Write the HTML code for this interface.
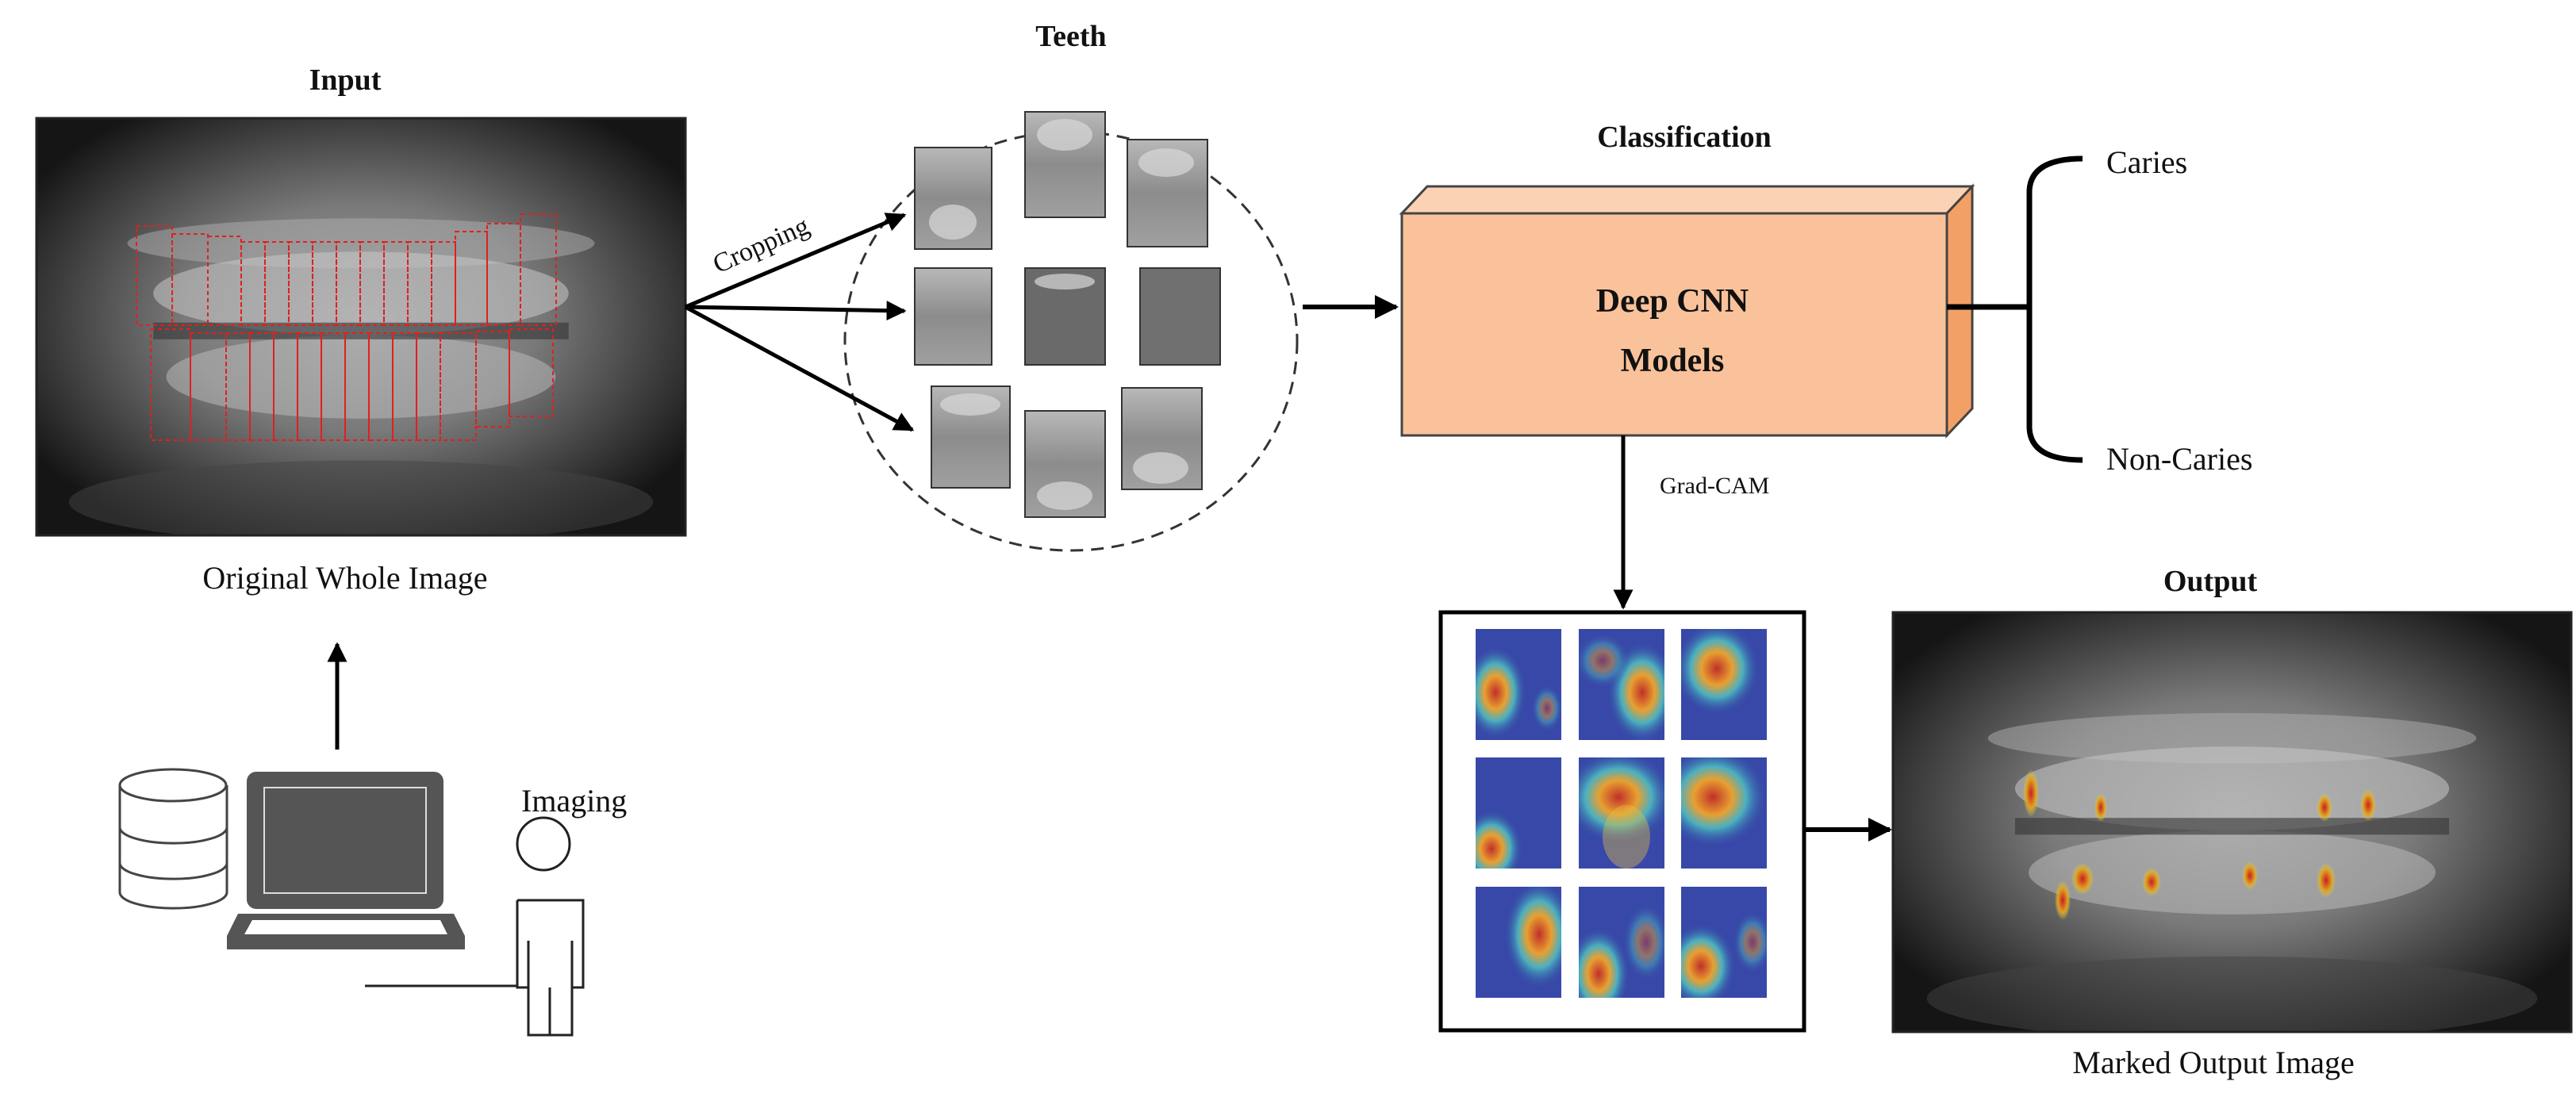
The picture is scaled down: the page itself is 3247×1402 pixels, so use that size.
<!DOCTYPE html>
<html><head><meta charset="utf-8"><style>
html,body{margin:0;padding:0;background:#fff;}
svg{display:block}
text{font-family:"Liberation Serif",serif;fill:#111}
</style></head><body>
<svg width="3247" height="1402" viewBox="0 0 3247 1402" xmlns="http://www.w3.org/2000/svg">
<defs>
<radialGradient id="xr" cx="50%" cy="48%" r="60%">
<stop offset="0" stop-color="#9a9a9a"/><stop offset="0.45" stop-color="#7a7a7a"/><stop offset="0.8" stop-color="#3a3a3a"/><stop offset="1" stop-color="#151515"/>
</radialGradient>
<radialGradient id="hm" cx="50%" cy="50%" r="50%">
<stop offset="0" stop-color="#c0302a"/><stop offset="0.35" stop-color="#e8a030"/><stop offset="0.6" stop-color="#4ab0c0"/><stop offset="1" stop-color="#3040a0" stop-opacity="0"/>
</radialGradient>
<radialGradient id="spot" cx="50%" cy="50%" r="50%">
<stop offset="0" stop-color="#c82020"/><stop offset="0.6" stop-color="#e0a020"/><stop offset="1" stop-color="#e0d040" stop-opacity="0"/>
</radialGradient>
<linearGradient id="tooth" x1="0" y1="0" x2="0" y2="1">
<stop offset="0" stop-color="#b8b8b8"/><stop offset="0.5" stop-color="#8c8c8c"/><stop offset="1" stop-color="#a0a0a0"/>
</linearGradient>
<marker id="ah" markerWidth="5" markerHeight="5" refX="4.5" refY="2.5" orient="auto" markerUnits="strokeWidth">
<path d="M0,0 L5,2.5 L0,5 Z" fill="#000"/></marker>
<g id="jaw">
<rect x="0" y="0" width="100" height="100" fill="url(#xr)"/>
<ellipse cx="50" cy="30" rx="36" ry="6" fill="#b0b0b0" opacity="0.5"/>
<ellipse cx="50" cy="42" rx="32" ry="10" fill="#c8c8c8" opacity="0.55"/>
<ellipse cx="50" cy="62" rx="30" ry="10" fill="#c0c0c0" opacity="0.5"/>
<rect x="18" y="49" width="64" height="4" fill="#333" opacity="0.6"/>
<ellipse cx="50" cy="92" rx="45" ry="10" fill="#444" opacity="0.5"/>
</g>
</defs>

<!-- Input -->
<text x="435" y="113" font-size="38" font-weight="bold" text-anchor="middle">Input</text>
<svg x="46" y="149" width="818" height="526" viewBox="0 0 100 100" preserveAspectRatio="none"><use href="#jaw"/></svg>
<rect x="46" y="149" width="818" height="526" fill="none" stroke="#222" stroke-width="3"/>
<g fill="none" stroke="#e02020" stroke-width="2" stroke-dasharray="5,4">
<rect x="172" y="285" width="45" height="125"/><rect x="217" y="295" width="45" height="115"/><rect x="262" y="298" width="42" height="112"/>
<rect x="304" y="305" width="30" height="105"/><rect x="334" y="305" width="30" height="105"/><rect x="364" y="305" width="30" height="105"/><rect x="394" y="305" width="30" height="105"/><rect x="424" y="305" width="30" height="105"/><rect x="454" y="305" width="30" height="105"/><rect x="484" y="305" width="30" height="105"/><rect x="514" y="305" width="30" height="105"/><rect x="544" y="305" width="30" height="105"/>
<rect x="574" y="292" width="40" height="118"/><rect x="614" y="282" width="42" height="128"/><rect x="656" y="270" width="45" height="140"/>
<rect x="190" y="415" width="50" height="140"/><rect x="240" y="420" width="45" height="135"/><rect x="285" y="420" width="30" height="135"/><rect x="315" y="420" width="30" height="135"/><rect x="345" y="420" width="30" height="135"/><rect x="375" y="420" width="30" height="135"/><rect x="405" y="420" width="30" height="135"/><rect x="435" y="420" width="30" height="135"/><rect x="465" y="420" width="30" height="135"/><rect x="495" y="420" width="30" height="135"/><rect x="525" y="420" width="30" height="135"/><rect x="555" y="420" width="45" height="135"/><rect x="600" y="418" width="42" height="120"/><rect x="642" y="415" width="55" height="110"/>
</g>
<text x="435" y="742" font-size="40" text-anchor="middle">Original Whole Image</text>

<!-- up arrow -->
<line x1="425" y1="945" x2="425" y2="812" stroke="#000" stroke-width="5" marker-end="url(#ah)"/>

<!-- database -->
<g fill="#fff" stroke="#444" stroke-width="3">
<path d="M151,990 L151,1125 A67,20 0 0 0 286,1125 L286,990"/>
<ellipse cx="218" cy="990" rx="67" ry="20"/>
<path d="M151,1043 A67,20 0 0 0 286,1043" fill="none"/>
<path d="M151,1088 A67,20 0 0 0 286,1088" fill="none"/>
</g>
<!-- monitor -->
<rect x="311" y="973" width="248" height="173" rx="12" fill="#555"/>
<rect x="333" y="993" width="204" height="133" fill="#555" stroke="#ddd" stroke-width="2"/>
<path d="M300,1152 L572,1152 L586,1180 L586,1197 L286,1197 L286,1180 Z" fill="#555"/>
<path d="M318,1160 L555,1160 L564,1178 L308,1178 Z" fill="#fff"/>
<!-- person -->
<text x="657" y="1023" font-size="40">Imaging</text>
<circle cx="685" cy="1064" r="33" fill="#fff" stroke="#222" stroke-width="3"/>
<path d="M652,1135 L735,1135 L735,1245 L721,1245 L721,1186 M721,1245 L721,1305 L666,1305 L666,1245 L652,1245 L652,1135 M666,1245 L666,1186 M693,1245 L693,1305" fill="#fff" stroke="#222" stroke-width="3"/>
<line x1="460" y1="1243" x2="652" y2="1243" stroke="#222" stroke-width="3"/>

<!-- Teeth -->
<text x="1350" y="58" font-size="38" font-weight="bold" text-anchor="middle">Teeth</text>
<ellipse cx="1350" cy="430" rx="285" ry="264" fill="none" stroke="#333" stroke-width="3" stroke-dasharray="16,10"/>
<g stroke="#333" stroke-width="2" fill="url(#tooth)">
<rect x="1153" y="186" width="97" height="128"/><rect x="1292" y="141" width="101" height="133"/><rect x="1421" y="176" width="101" height="135"/>
<rect x="1153" y="338" width="97" height="122"/><rect x="1292" y="338" width="101" height="122" fill="#6a6a6a"/><rect x="1437" y="338" width="101" height="122" fill="#707070"/>
<rect x="1174" y="487" width="99" height="128"/><rect x="1292" y="518" width="101" height="134"/><rect x="1414" y="489" width="101" height="128"/>
</g>
<g fill="#d8d8d8" opacity="0.7">
<ellipse cx="1201" cy="280" rx="30" ry="22"/><ellipse cx="1342" cy="170" rx="35" ry="20"/><ellipse cx="1470" cy="205" rx="35" ry="18"/>
<ellipse cx="1342" cy="355" rx="38" ry="10"/><ellipse cx="1223" cy="510" rx="38" ry="14"/><ellipse cx="1342" cy="625" rx="35" ry="18"/><ellipse cx="1463" cy="590" rx="35" ry="20"/>
</g>
<g stroke="#000" stroke-width="5" fill="none">
<line x1="864" y1="387" x2="1140" y2="271" marker-end="url(#ah)"/>
<line x1="864" y1="387" x2="1140" y2="392" marker-end="url(#ah)"/>
<line x1="864" y1="387" x2="1150" y2="542" marker-end="url(#ah)"/>
</g>
<text x="0" y="0" font-size="34" transform="translate(905,345) rotate(-24)">Cropping</text>

<!-- arrow to box -->
<line x1="1642" y1="387" x2="1760" y2="387" stroke="#000" stroke-width="6" marker-end="url(#ah)"/>

<!-- 3D box -->
<text x="2123" y="185" font-size="38" font-weight="bold" text-anchor="middle">Classification</text>
<polygon points="1767,269 1799,235 2486,235 2454,269" fill="#fbd3b4" stroke="#444" stroke-width="3"/>
<polygon points="2454,269 2486,235 2486,515 2454,549" fill="#f3a066" stroke="#444" stroke-width="3"/>
<rect x="1767" y="269" width="687" height="280" fill="#f9c29b" stroke="#444" stroke-width="3"/>
<text x="2108" y="393" font-size="42" font-weight="bold" text-anchor="middle">Deep CNN</text>
<text x="2108" y="468" font-size="42" font-weight="bold" text-anchor="middle">Models</text>

<!-- bracket -->
<path d="M2454,387 L2558,387 M2625,200 Q2560,200 2558,240 L2558,540 Q2560,580 2625,580" fill="none" stroke="#000" stroke-width="7"/>
<text x="2655" y="218" font-size="40">Caries</text>
<text x="2655" y="592" font-size="40">Non-Caries</text>

<!-- Grad-CAM -->
<line x1="2046" y1="549" x2="2046" y2="766" stroke="#000" stroke-width="5" marker-end="url(#ah)"/>
<text x="2092" y="622" font-size="30">Grad-CAM</text>

<!-- heatmap box -->
<rect x="1816" y="772" width="458" height="527" fill="#fff" stroke="#000" stroke-width="5"/>
<svg x="1860" y="793" width="108" height="140"><rect width="108" height="140" fill="#3848a8"/><ellipse cx="25" cy="80" rx="40" ry="60" fill="url(#hm)"/><ellipse cx="90" cy="100" rx="20" ry="30" fill="url(#hm)" opacity="0.5"/></svg>
<svg x="1990" y="793" width="108" height="140"><rect width="108" height="140" fill="#3848a8"/><ellipse cx="80" cy="80" rx="45" ry="65" fill="url(#hm)"/><ellipse cx="30" cy="40" rx="35" ry="35" fill="url(#hm)" opacity="0.5"/></svg>
<svg x="2119" y="793" width="108" height="140"><rect width="108" height="140" fill="#3848a8"/><ellipse cx="45" cy="50" rx="55" ry="60" fill="url(#hm)"/></svg>
<svg x="1860" y="955" width="108" height="140"><rect width="108" height="140" fill="#3848a8"/><ellipse cx="20" cy="115" rx="40" ry="50" fill="url(#hm)"/></svg>
<svg x="1990" y="955" width="108" height="140"><rect width="108" height="140" fill="#3848a8"/><ellipse cx="50" cy="50" rx="70" ry="60" fill="url(#hm)"/><ellipse cx="60" cy="100" rx="30" ry="40" fill="#e8c040" opacity="0.4"/></svg>
<svg x="2119" y="955" width="108" height="140"><rect width="108" height="140" fill="#3848a8"/><ellipse cx="40" cy="50" rx="70" ry="65" fill="url(#hm)"/></svg>
<svg x="1860" y="1118" width="108" height="140"><rect width="108" height="140" fill="#3848a8"/><ellipse cx="80" cy="60" rx="45" ry="70" fill="url(#hm)"/></svg>
<svg x="1990" y="1118" width="108" height="140"><rect width="108" height="140" fill="#3848a8"/><ellipse cx="25" cy="110" rx="40" ry="60" fill="url(#hm)"/><ellipse cx="85" cy="70" rx="30" ry="50" fill="url(#hm)" opacity="0.5"/></svg>
<svg x="2119" y="1118" width="108" height="140"><rect width="108" height="140" fill="#3848a8"/><ellipse cx="25" cy="100" rx="45" ry="55" fill="url(#hm)"/><ellipse cx="90" cy="70" rx="25" ry="40" fill="url(#hm)" opacity="0.5"/></svg>

<line x1="2274" y1="1046" x2="2382" y2="1046" stroke="#000" stroke-width="6" marker-end="url(#ah)"/>

<!-- Output -->
<text x="2786" y="745" font-size="38" font-weight="bold" text-anchor="middle">Output</text>
<svg x="2386" y="772" width="855" height="529" viewBox="0 0 100 100" preserveAspectRatio="none"><use href="#jaw"/></svg>
<rect x="2386" y="772" width="855" height="529" fill="none" stroke="#222" stroke-width="3"/>
<g>
<ellipse cx="2560" cy="1000" rx="10" ry="30" fill="url(#spot)"/>
<ellipse cx="2648" cy="1018" rx="8" ry="18" fill="url(#spot)"/>
<ellipse cx="2930" cy="1018" rx="10" ry="18" fill="url(#spot)"/>
<ellipse cx="2985" cy="1015" rx="10" ry="20" fill="url(#spot)"/>
<ellipse cx="2625" cy="1108" rx="14" ry="20" fill="url(#spot)"/>
<ellipse cx="2600" cy="1135" rx="10" ry="25" fill="url(#spot)"/>
<ellipse cx="2712" cy="1112" rx="12" ry="18" fill="url(#spot)"/>
<ellipse cx="2836" cy="1104" rx="10" ry="18" fill="url(#spot)"/>
<ellipse cx="2932" cy="1110" rx="12" ry="22" fill="url(#spot)"/>
</g>
<text x="2790" y="1353" font-size="40" text-anchor="middle">Marked Output Image</text>
</svg>
</body></html>
